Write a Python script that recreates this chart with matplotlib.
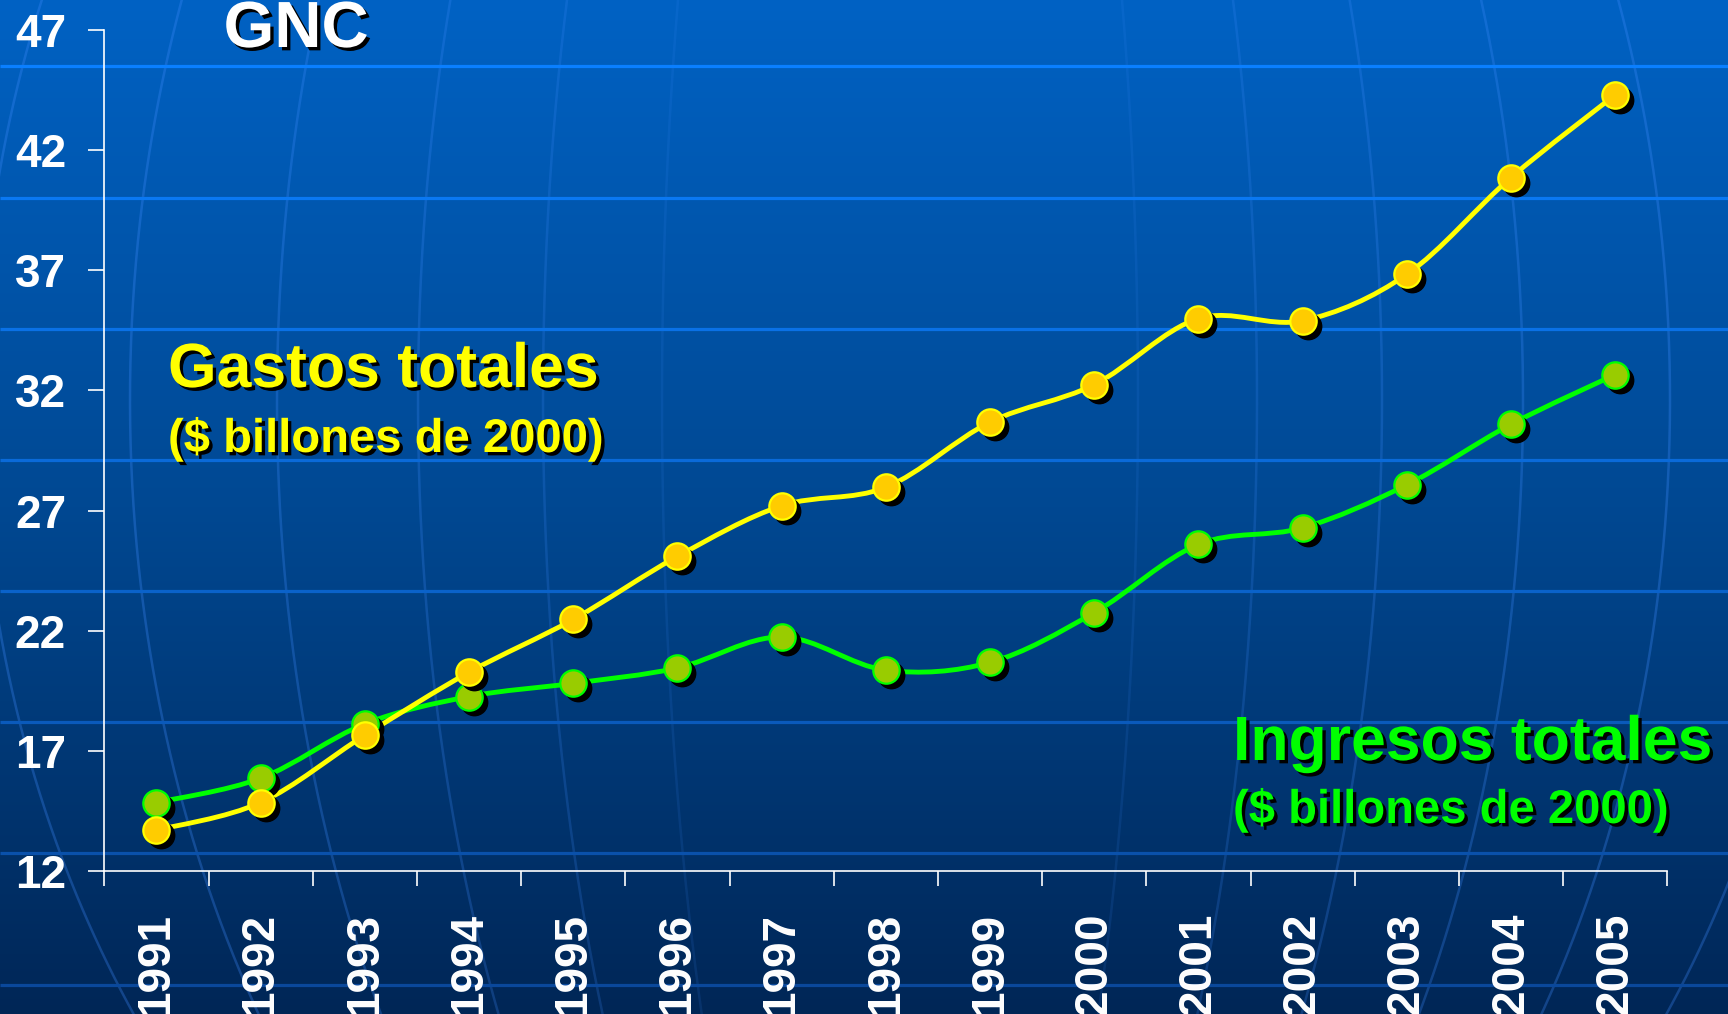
import numpy as np
import matplotlib
matplotlib.use("Agg")
import matplotlib.pyplot as plt
from matplotlib.path import Path
from matplotlib.patches import PathPatch
import matplotlib.patheffects as pe
import matplotlib.transforms as mtransforms

# ---------------- data ----------------
years = ['1991', '1992', '1993', '1994', '1995', '1996', '1997', '1998',
         '1999', '2000', '2001', '2002', '2003', '2004', '2005']
gastos = [13.7, 14.85, 17.65, 20.27, 22.47, 25.09, 27.2, 27.97,
          30.68, 32.24, 34.99, 34.9, 36.83, 40.86, 44.3]
ingresos = [14.85, 15.86, 18.12, 19.26, 19.81, 20.45, 21.74, 20.36,
            20.68, 22.75, 25.59, 26.28, 28.07, 30.59, 32.66]
yticks = [12, 17, 22, 27, 32, 37, 42, 47]

title = 'GNC'
gastos_label = 'Gastos totales'
ingresos_label = 'Ingresos totales'
units_label = '($ billones de 2000)'

plt.rcParams['font.family'] = ['Liberation Sans', 'DejaVu Sans']
plt.rcParams['font.weight'] = 'bold'

W, H = 1728, 1014
fig = plt.figure(figsize=(W / 100, H / 100), dpi=100)

# ---------------- background ----------------
bg = fig.add_axes([0, 0, 1, 1], zorder=0)
bg.set_axis_off()
stops = np.array([0.0, 0.5, 1.0])
cols = np.array([[0, 98, 196], [0, 72, 146], [0, 38, 86]]) / 255.0
yy = np.linspace(0, 1, H)
grad = np.stack([np.interp(yy, stops, cols[:, c]) for c in range(3)], axis=-1)
grad = grad[:, None, :]
bg.imshow(grad, aspect='auto', extent=[0, W, H, 0], interpolation='bilinear')
bg.set_xlim(0, W)
bg.set_ylim(H, 0)

# globe meridians (decoration)
cx, cy, Rv = 900, 400, 1110
yv = np.linspace(0, H, 300)
fac = np.sqrt(np.clip(1 - ((yv - cy) / Rv) ** 2, 0, 1))
for w, a in [(-920, 0.3), (-770, 0.3), (-623, 0.28), (-482, 0.24), (-357, 0.2),
             (-238, 0.12), (238, 0.12), (357, 0.2), (482, 0.24), (623, 0.28),
             (770, 0.3), (920, 0.3)]:
    bg.plot(cx + w * fac, yv, color=(0.25, 0.55, 1.0), alpha=a, lw=1.8)

# horizontal bands
for y in [66, 198, 329, 460, 591, 722, 853, 985]:
    base = np.array([np.interp(y / H, stops, cols[:, c]) for c in range(3)])
    c = np.clip(base + np.array([10, 32, 66]) / 255.0, 0, 1)
    bg.plot([0, W], [y, y], color=c, lw=2.3, solid_capstyle='butt')

# ---------------- main axes ----------------
ax = fig.add_axes([104.3 / W, 1 - 871 / H, (1667.3 - 104.3) / W, (871 - 30) / H], zorder=1)
ax.set_facecolor('none')
x = np.arange(len(years))
ax.set_xlim(-0.5, len(years) - 0.5)
ax.set_ylim(12, 47)

for s in ['top', 'right']:
    ax.spines[s].set_visible(False)
for s in ['left', 'bottom']:
    ax.spines[s].set_color('white')
    ax.spines[s].set_linewidth(1.2)

ax.set_yticks(yticks)
ax.set_yticklabels([str(v) for v in yticks])
ax.tick_params(axis='y', length=11.5, width=1.2, color='white', labelcolor='white',
               labelsize=33, pad=16)
ax.set_xticks(x)
ax.set_xticklabels(years, rotation=90)
ax.tick_params(axis='x', which='major', length=0, labelcolor='white', labelsize=33, pad=30)
ax.set_xticks(np.arange(-0.5, len(years), 1.0), minor=True)
ax.tick_params(axis='x', which='minor', length=11, width=1.2, color='white')
for lab in ax.get_xticklabels() + ax.get_yticklabels():
    lab.set_fontweight('bold')


def smooth_path(xs, ys):
    pts = np.column_stack([xs, ys]).astype(float)
    n = len(pts)
    verts = [pts[0]]
    codes = [Path.MOVETO]
    for i in range(n - 1):
        p0 = pts[i - 1] if i > 0 else pts[i]
        p1 = pts[i]
        p2 = pts[i + 1]
        p3 = pts[i + 2] if i + 2 < n else pts[i + 1]
        verts += [p1 + (p2 - p0) / 6.0, p2 - (p3 - p1) / 6.0, p2]
        codes += [Path.CURVE4] * 3
    return Path(verts, codes)


ax.add_patch(PathPatch(smooth_path(x, ingresos), fill=False, edgecolor='#00FF00',
                       lw=3.5, capstyle='round', joinstyle='round', zorder=2))
ax.add_patch(PathPatch(smooth_path(x, gastos), fill=False, edgecolor='#FFFF00',
                       lw=3.5, capstyle='round', joinstyle='round', zorder=3))

shadow_tr = mtransforms.offset_copy(ax.transData, fig=fig, x=5, y=-5, units='dots')
ax.plot(x, ingresos, 'o', ms=19, color='black', mec='black', transform=shadow_tr,
        zorder=4, clip_on=False)
ax.plot(x, ingresos, 'o', ms=19, mfc='#99CC00', mec='#00FF00', mew=1.6,
        zorder=5, clip_on=False)
ax.plot(x, gastos, 'o', ms=19, color='black', mec='black', transform=shadow_tr,
        zorder=6, clip_on=False)
ax.plot(x, gastos, 'o', ms=19, mfc='#FFCC00', mec='#FFFF00', mew=1.6,
        zorder=7, clip_on=False)

# ---------------- texts ----------------
shadow = [pe.SimplePatchShadow(offset=(2.4, -2.4), shadow_rgbFace='black', alpha=1.0),
          pe.Normal()]


def ftext(px, py, s, size, color):
    fig.text(px / W, 1 - py / H, s, fontsize=size, color=color, fontweight='bold',
             ha='left', va='baseline', path_effects=shadow, zorder=10)


fig.text(296 / W, 1 - 47 / H, title, fontsize=47, color='white', fontweight='bold',
         ha='center', va='baseline', path_effects=shadow, zorder=10)
ftext(168, 387, gastos_label, 45, '#FFFF00')
ftext(168, 452, units_label, 34, '#FFFF00')
ftext(1233, 760, ingresos_label, 45, '#00FF00')
ftext(1233, 823, units_label, 34, '#00FF00')

fig.savefig('out.png', dpi=100)
